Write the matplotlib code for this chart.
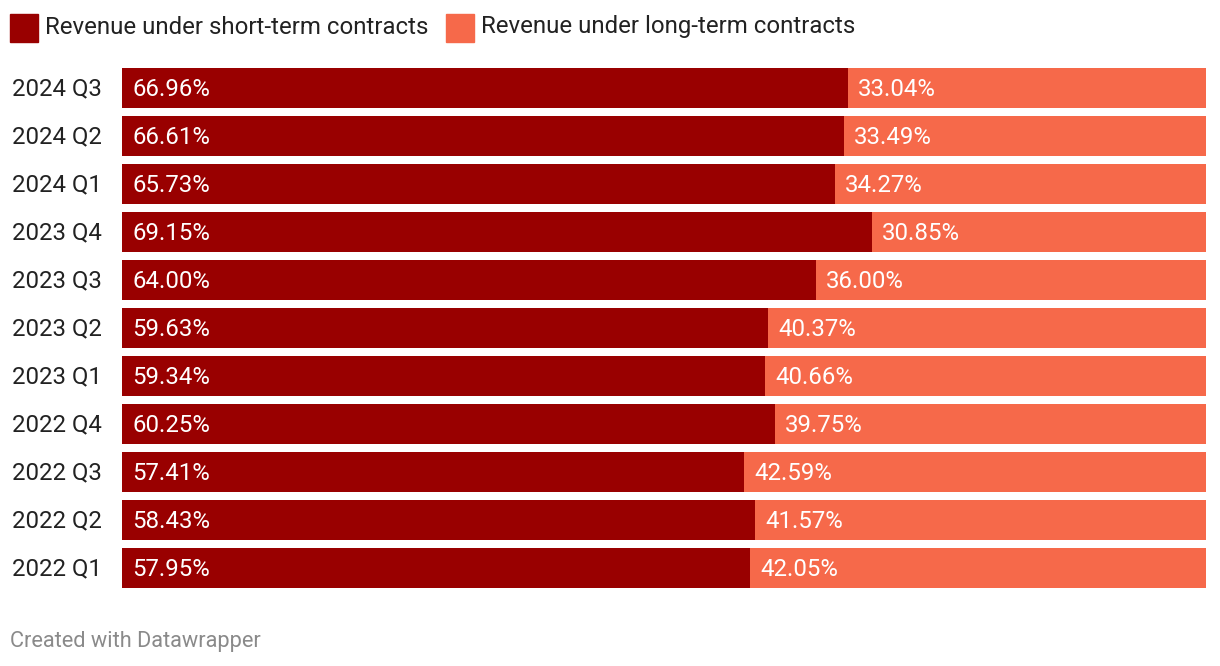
import matplotlib.pyplot as plt
from matplotlib.patches import Rectangle

# dados (de baixo para cima)
trimestres = ["2022 Q1", "2022 Q2", "2022 Q3", "2022 Q4", "2023 Q1", "2023 Q2",
              "2023 Q3", "2023 Q4", "2024 Q1", "2024 Q2", "2024 Q3"]
curto_prazo = [57.95, 58.43, 57.41, 60.25, 59.34, 59.63, 64.00, 69.15, 65.73, 66.61, 66.96]
longo_prazo = [42.05, 41.57, 42.59, 39.75, 40.66, 40.37, 36.00, 30.85, 34.27, 33.49, 33.04]

cor_curto = "#990000"
cor_longo = "#f6694a"

plt.rcParams['font.family'] = ['Roboto', 'DejaVu Sans']
tam = 17.3

W, H = 1220, 666
fig = plt.figure(figsize=(W / 100, H / 100), dpi=100)

# eixo posicionado em pixels
esq, dir_, topo, base = 122, 1206, 64, 592
ax = fig.add_axes([esq / W, 1 - base / H, (dir_ - esq) / W, (base - topo) / H])

y = list(range(len(trimestres)))
altura = 40 / 48
ax.barh(y, curto_prazo, height=altura, color=cor_curto)
ax.barh(y, longo_prazo, left=curto_prazo, height=altura, color=cor_longo)

ax.set_xlim(0, 100)
ax.set_ylim(-0.5, len(trimestres) - 0.5)
ax.axis('off')

# rótulos de valor (pequeno ajuste vertical de ~1px)
deslocamento = 10 / (dir_ - esq) * 100
dy = -1 / 48
for i in y:
    ax.text(deslocamento, i + dy, f"{curto_prazo[i]:.2f}%", color="white",
            fontsize=tam, va="center", ha="left")
    ax.text(curto_prazo[i] + deslocamento, i + dy, f"{longo_prazo[i]:.2f}%", color="white",
            fontsize=tam, va="center", ha="left")
    ax.text(-(110 / (dir_ - esq)) * 100, i + dy, trimestres[i], color="#222222",
            fontsize=tam, va="center", ha="left")

# legenda manual
for x0, cor, texto in [(10, cor_curto, "Revenue under short-term contracts"),
                       (446, cor_longo, "Revenue under long-term contracts")]:
    fig.patches.append(Rectangle((x0 / W, 1 - 42 / H), 28 / W, 28 / H,
                                 transform=fig.transFigure, color=cor))
    fig.text((x0 + 35) / W, 1 - 27 / H, texto, color="#222222", fontsize=tam,
             va="center", ha="left")

fig.text(10 / W, 1 - 642 / H, "Created with Datawrapper", color="#8a8a8a",
         fontsize=15.7, va="center", ha="left")

fig.savefig("out.png", dpi=100, facecolor="white")
